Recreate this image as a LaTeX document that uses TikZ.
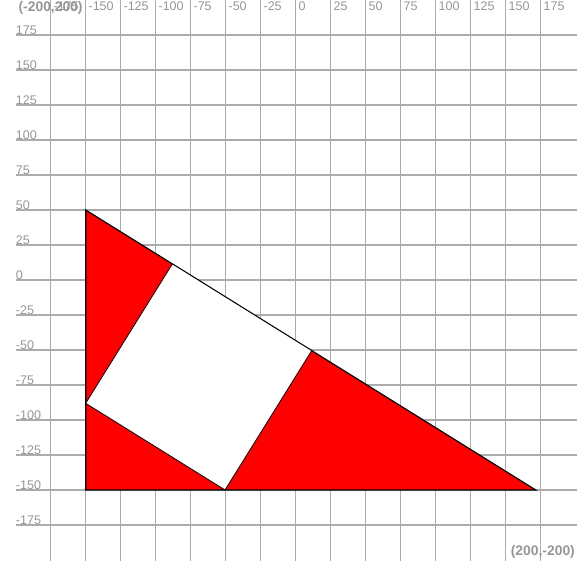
\documentclass[tikz,border=0pt]{standalone}
\usepackage{fontspec}
\setmainfont{Liberation Sans}
\definecolor{gridgray}{RGB}{172,172,172}
\definecolor{labelgray}{RGB}{150,150,150}
\definecolor{shapered}{RGB}{255,0,0}
\begin{document}
\begin{tikzpicture}[x=1.05pt,y=1.05pt,
  gridline/.style={draw=gridgray,line width=0.9pt},
  axislabel/.style={text=labelgray,inner sep=0pt,font=\fontsize{9.4}{11}\selectfont},
  cornerlabel/.style={text=labelgray,inner sep=0pt,font=\fontsize{10.4}{12}\selectfont\bfseries},
  tri/.style={fill=shapered,draw=black,line width=0.9pt,line join=miter},
  sq/.style={fill=white,draw=black,line width=0.6pt}]
\useasboundingbox (-211.2,-207.1) rectangle (208.1,200);
% grid
\foreach \v in {-175,-150,...,175}{
  \draw[gridline] (\v,-200.8) -- (\v,200);
  \draw[gridline] (-200,\v) -- (200.8,\v);
}
% x labels
\foreach \v in {-175,-150,...,175}{
  \node[axislabel,anchor=base west] (xl\v) at (\v+1.9,192.4) {\v};
}
% y labels
\foreach \v in {175,150,...,-175}{
  \node[axislabel,anchor=base west] (yl\v) at (-200,\v+0.7) {\v};
}
\node[cornerlabel,anchor=base west] (tl) at (-198.1,191.9) {(-200,200)};
\node[cornerlabel,anchor=base east] (br) at (199.6,-197.1) {(200,-200)};
% shapes
\coordinate (A) at (-150,50);
\coordinate (B) at (-150,-150);
\coordinate (C) at (171.5,-150);
\coordinate (P1) at (-150,-88.07);
\coordinate (P2) at (-50.45,-150);
\coordinate (P3) at (11.48,-50.45);
\coordinate (P4) at (-88.07,11.48);
\draw[tri] (A) -- (B) -- (C) -- cycle;
\draw[sq] (P1) -- (P2) -- (P3) -- (P4) -- cycle;
\end{tikzpicture}
\end{document}
